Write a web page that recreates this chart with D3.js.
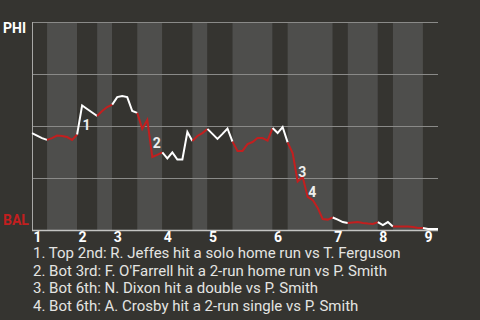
<!DOCTYPE html>
<html>
<head>
<meta charset="utf-8">
<script src="https://cdn.jsdelivr.net/npm/d3@7"></script>
<style>
  html, body { margin: 0; padding: 0; background: #353430; }
  svg { display: block; }
</style>
</head>
<body>
<div id="chart"></div>
<script>
// plate appearances per half inning (top 1st, bottom 1st, ... top 9th)
var halfCounts = [3, 6, 4, 3, 5, 5, 6, 3, 5, 8, 3, 9, 3, 6, 3, 6, 3];

// PHI win probability (%) after each plate appearance
var winProb = [
    46.6, 45.4, 44.2, 43.3,
    44.2, 45.4, 45.2, 44.7, 43.3, 45.9,
    59.9, 58.2, 56.5, 54.8,
    57.2, 59.1, 60.3,
    63.9, 64.4, 63.9, 57.2, 56.3,
    48.6, 52.9, 35.1, 36.1, 37.3,
    34.4, 37.3, 33.9, 33.9, 47.1, 42.8,
    45.2, 46.6, 48.6,
    46.2, 43.8, 46.2, 48.8, 42.5,
    38.0, 38.0, 41.3, 42.3, 44.2, 44.2, 43.0, 49.0,
    46.6, 49.5, 42.1,
    37.0, 23.3, 25.5, 15.9, 14.4, 10.6, 5.3, 5.0, 6.0,
    5.0, 3.8, 3.4,
    3.6, 3.8, 3.4, 3.1, 2.9, 3.8,
    2.4, 3.8, 1.7,
    1.7, 1.7, 1.7, 1.4, 1.0, 1.0,
    0.5, 0.5, 0.5
];

var innings = ["1", "2", "3", "4", "5", "6", "7", "8", "9"];
var yTicks = [0, 25, 50, 75, 100];

// key plays: index of the plate appearance that ends the play
var eventIdx = [10, 24, 53, 55];
var eventText = [
    "1. Top 2nd: R. Jeffes hit a solo home run vs T. Ferguson",
    "2. Bot 3rd: F. O'Farrell hit a 2-run home run vs P. Smith",
    "3. Bot 6th: N. Dixon hit a double vs P. Smith",
    "4. Bot 6th: A. Crosby hit a 2-run single vs P. Smith"
];

var teamTop = "PHI";
var teamBottom = "BAL";

var width = 480, height = 320;
var margin = { top: 22, right: 42, bottom: 90, left: 32 };
var red = "#c21f1f";

var svg = d3.select("#chart").append("svg")
    .attr("width", width)
    .attr("height", height);

var x = d3.scaleLinear()
    .domain([0, winProb.length - 1])
    .range([margin.left, width - margin.right]);

var y = d3.scaleLinear()
    .domain([0, 100])
    .range([height - margin.bottom, margin.top]);

// half inning start / end indexes
var halves = [];
var start = 0;
halfCounts.forEach(function(n, i) {
    halves.push({ start: start, end: start + n, top: i % 2 === 0, inning: Math.floor(i / 2) });
    start += n;
});

// bands
svg.selectAll(".band")
    .data(halves)
    .enter().append("rect")
    .attr("class", "band")
    .attr("x", function(d) { return x(d.start); })
    .attr("width", function(d) { return x(d.end) - x(d.start); })
    .attr("y", y(100))
    .attr("height", y(0) - y(100))
    .style("fill", function(d) { return d.top ? "#353430" : "#4e4e4c"; });

// grid lines
svg.selectAll(".grid")
    .data(yTicks.filter(function(d) { return d > 0; }))
    .enter().append("line")
    .attr("class", "grid")
    .attr("x1", x(0))
    .attr("x2", x(winProb.length - 1))
    .attr("y1", function(d) { return y(d) + 0.5; })
    .attr("y2", function(d) { return y(d) + 0.5; })
    .style("stroke", "#8a8a88")
    .style("stroke-width", 1);

// left and bottom frame
svg.append("line")
    .attr("x1", x(0) + 0.5).attr("x2", x(0) + 0.5)
    .attr("y1", y(100)).attr("y2", y(0) + 1)
    .style("stroke", "#a8a8a6");

svg.append("line")
    .attr("x1", x(0)).attr("x2", x(winProb.length - 1))
    .attr("y1", y(0) + 0.5).attr("y2", y(0) + 0.5)
    .style("stroke", "#c4c4c2")
    .style("stroke-width", 1.5);

// win probability line, one piece per half inning
var line = d3.line()
    .x(function(d) { return x(d.i); })
    .y(function(d) { return y(d.v); });

svg.selectAll(".wp")
    .data(halves)
    .enter().append("path")
    .attr("class", "wp")
    .attr("d", function(h) {
        var pts = [];
        for (var i = h.start; i <= h.end; i++) pts.push({ i: i, v: winProb[i] });
        return line(pts);
    })
    .style("fill", "none")
    .style("stroke", function(d) { return d.top ? "#ffffff" : red; })
    .style("stroke-width", 2)
    .style("stroke-linejoin", "miter");

// event markers
svg.selectAll(".ev")
    .data(eventIdx)
    .enter().append("text")
    .attr("class", "ev")
    .attr("x", function(d) { return (x(d - 1) + x(d)) / 2 + 3; })
    .attr("y", function(d) { return (y(winProb[d - 1]) + y(winProb[d])) / 2 + 10; })
    .attr("font-family", "Roboto, sans-serif")
    .attr("font-weight", "bold")
    .attr("font-size", 14)
    .style("fill", "#eeeeee")
    .text(function(d, i) { return i + 1; });

// inning labels
svg.selectAll(".inning")
    .data(halves.filter(function(h) { return h.top; }))
    .enter().append("text")
    .attr("class", "inning")
    .attr("x", function(d) { return x(d.start) + 1.5; })
    .attr("y", 242)
    .attr("font-family", "Roboto, sans-serif")
    .attr("font-weight", "bold")
    .attr("font-size", 14)
    .style("fill", "#ffffff")
    .text(function(d) { return innings[d.inning]; });

// team labels
svg.append("text")
    .attr("x", 3).attr("y", 33)
    .attr("font-family", "Roboto, sans-serif")
    .attr("font-weight", "bold")
    .attr("font-size", 14)
    .style("fill", "#ffffff")
    .text(teamTop);

svg.append("text")
    .attr("x", 3).attr("y", 225)
    .attr("font-family", "Roboto, sans-serif")
    .attr("font-weight", "bold")
    .attr("font-size", 14)
    .style("fill", red)
    .text(teamBottom);

// play descriptions
svg.selectAll(".desc")
    .data(eventText)
    .enter().append("text")
    .attr("class", "desc")
    .attr("x", 33)
    .attr("y", function(d, i) { return 258 + i * 17.7; })
    .attr("font-family", "Roboto, sans-serif")
    .attr("font-size", 15)
    .style("fill", "#e4e4e2")
    .text(function(d) { return d; });
</script>
</body>
</html>
